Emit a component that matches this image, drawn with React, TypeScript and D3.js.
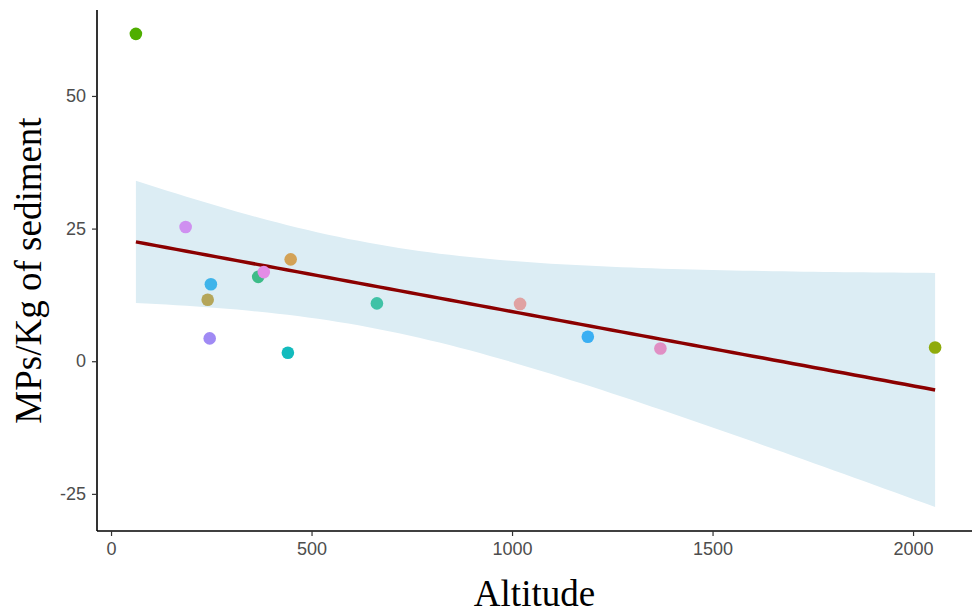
import React, { useEffect, useRef } from "react";
import * as d3 from "d3";

// sampling sites: altitude vs microplastics per kg of sediment
const altitude = [62, 186, 249, 241, 246, 367, 381, 448, 441, 663, 1020, 1189, 1370, 2055];
const mps = [61.7, 25.3, 14.5, 11.6, 4.3, 15.9, 16.8, 19.2, 1.6, 10.9, 10.8, 4.6, 2.4, 2.6];
const pointColors = [
  "#4fae00", "#cf90f0", "#3fb4ea", "#b5a65a", "#a08af4", "#3dbc88", "#e38ce6",
  "#d3a256", "#13bbbd", "#40c2a6", "#e0a2a2", "#3aaff3", "#e08fc4", "#8fab0c",
];
const xTicks = [0, 500, 1000, 1500, 2000];
const yTicks = [-25, 0, 25, 50];

export default function App() {
  const svgRef = useRef<SVGSVGElement>(null);
  const width = 975;
  const height = 615;
  const left = 97;
  const right = 972;
  const top = 10;
  const bottom = 531;

  useEffect(() => {
    const svg = d3.select(svgRef.current);
    svg.selectAll("*").remove();

    const xScale = d3.scaleLinear().domain([-35, 2147]).range([left, right]);
    const yScale = d3.scaleLinear().domain([-32, 66.2]).range([bottom, top]);

    // linear fit with 95% band (like geom_smooth(method = "lm"))
    const n = altitude.length;
    const mx = d3.mean(altitude) as number;
    const my = d3.mean(mps) as number;
    const sxx = d3.sum(altitude, (x) => (x - mx) ** 2);
    const sxy = d3.sum(altitude, (x, i) => (x - mx) * (mps[i] - my));
    const slope = sxy / sxx;
    const icpt = my - slope * mx;
    const sse = d3.sum(altitude, (x, i) => (mps[i] - (icpt + slope * x)) ** 2);
    const s = Math.sqrt(sse / (n - 2));
    const tCrit = 2.179; // t(0.975, df = 12)
    const [x0, x1] = d3.extent(altitude) as [number, number];
    const fit = d3.range(80).map((i) => {
      const x = x0 + ((x1 - x0) * i) / 79;
      const yhat = icpt + slope * x;
      const se = s * Math.sqrt(1 / n + (x - mx) ** 2 / sxx);
      return { x, yhat, lo: yhat - tCrit * se, hi: yhat + tCrit * se };
    });

    svg
      .append("path")
      .datum(fit)
      .attr("fill", "#dcedf4")
      .attr("d", d3.area<any>().x((d) => xScale(d.x)).y0((d) => yScale(d.lo)).y1((d) => yScale(d.hi)));

    svg
      .append("path")
      .datum(fit)
      .attr("fill", "none")
      .attr("stroke", "#8b0000")
      .attr("stroke-width", 3.5)
      .attr("d", d3.line<any>().x((d) => xScale(d.x)).y((d) => yScale(d.yhat)));

    svg
      .selectAll("circle.pt")
      .data(altitude)
      .enter()
      .append("circle")
      .attr("class", "pt")
      .attr("cx", (d) => xScale(d))
      .attr("cy", (d, i) => yScale(mps[i]))
      .attr("r", 6.3)
      .attr("fill", (d, i) => pointColors[i]);

    const fmt = (d: any) => String(d);
    const xAxis = d3.axisBottom(xScale).tickValues(xTicks).tickFormat(fmt).tickSize(5).tickPadding(6).tickSizeOuter(0);
    const yAxis = d3.axisLeft(yScale).tickValues(yTicks).tickFormat(fmt).tickSize(5).tickPadding(6).tickSizeOuter(0);

    const gx = svg.append("g").attr("transform", `translate(0, ${bottom})`).call(xAxis);
    const gy = svg.append("g").attr("transform", `translate(${left}, 0)`).call(yAxis);
    gx.select(".domain").attr("d", `M${left},0H${right}`).attr("stroke", "#000").attr("stroke-width", 1.6);
    gy.select(".domain").attr("d", `M0,${top}V${bottom}`).attr("stroke", "#000").attr("stroke-width", 1.6);
    [gx, gy].forEach((g) => {
      g.selectAll(".tick line").attr("stroke", "#333").attr("stroke-width", 1.2);
      g.selectAll(".tick text")
        .attr("fill", "#4d4d4d")
        .attr("font-family", "'Liberation Sans', Arial, sans-serif")
        .attr("font-size", 18);
    });

    svg
      .append("text")
      .attr("x", (left + right) / 2)
      .attr("y", 606)
      .attr("text-anchor", "middle")
      .attr("font-family", "'Liberation Serif', 'Times New Roman', serif")
      .attr("font-size", 37)
      .attr("fill", "#000")
      .text("Altitude");

    svg
      .append("text")
      .attr("transform", `translate(41, ${(top + bottom) / 2}) rotate(-90)`)
      .attr("text-anchor", "middle")
      .attr("font-family", "'Liberation Serif', 'Times New Roman', serif")
      .attr("font-size", 37)
      .attr("fill", "#000")
      .text("MPs/Kg of sediment");
  }, []);

  return (
    <svg
      ref={svgRef}
      width={width}
      height={height}
      style={{ position: "absolute", left: 0, top: 0, background: "#fff" }}
    ></svg>
  );
}
